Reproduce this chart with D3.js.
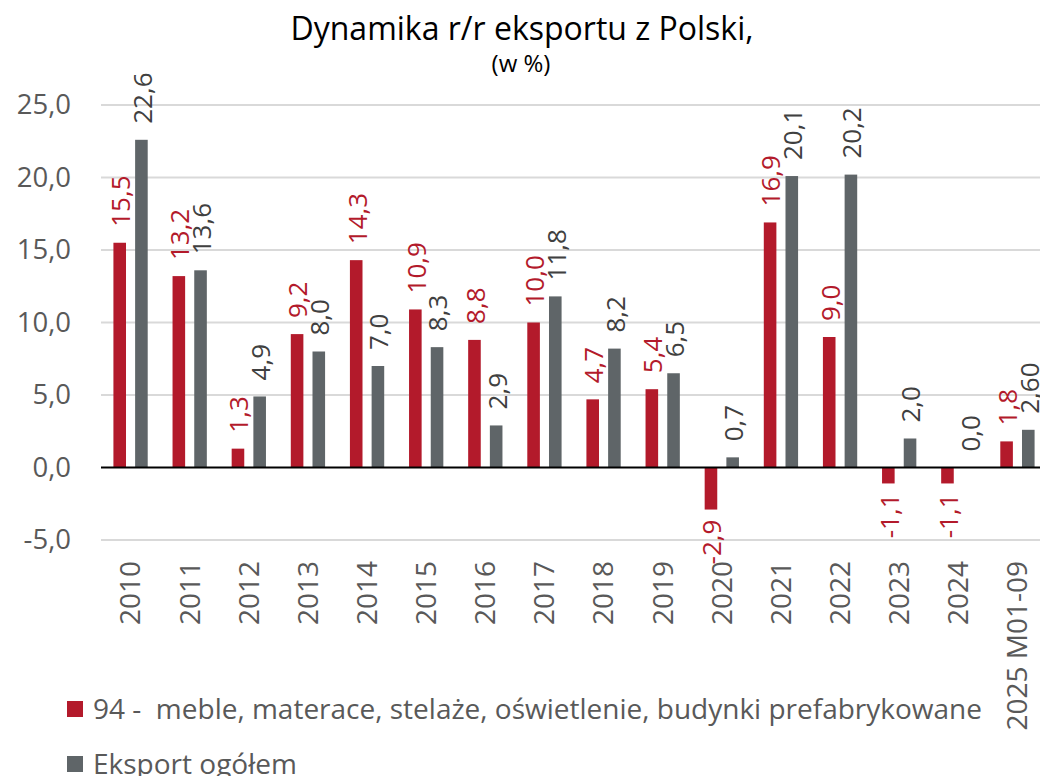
<!DOCTYPE html>
<html>
<head>
<meta charset="utf-8">
<script src="https://d3js.org/d3.v7.min.js"></script>
<style>
  body { margin: 0; background: #fff; }
  text { font-family: "Open Sans", "Noto Sans", sans-serif; }
</style>
</head>
<body>

<svg id="chart" width="1040" height="776"></svg>

<script>
// data
const years = ["2010", "2011", "2012", "2013", "2014", "2015", "2016", "2017",
               "2018", "2019", "2020", "2021", "2022", "2023", "2024", "2025 M01-09"];
const meble = [15.5, 13.2, 1.3, 9.2, 14.3, 10.9, 8.8, 10.0, 4.7, 5.4, -2.9, 16.9, 9.0, -1.1, -1.1, 1.8];
const eksport = [22.6, 13.6, 4.9, 8.0, 7.0, 8.3, 2.9, 11.8, 8.2, 6.5, 0.7, 20.1, 20.2, 2.0, 0.0, 2.6];
const eksportDecimals = [1, 1, 1, 1, 1, 1, 1, 1, 1, 1, 1, 1, 1, 1, 1, 2]; // last label shows "2,60"
const yTicks = [-5, 0, 5, 10, 15, 20, 25];
const seriesNames = ["94 -  meble, materace, stelaże, oświetlenie, budynki prefabrykowane", "Eksport ogółem"];
const seriesColors = ["#b31a2b", "#5f6568"];

const svg = d3.select("#chart");

const x0 = d3.scaleBand()
    .domain(years)
    .range([101, 1047])
    .paddingInner(0.42)
    .paddingOuter(0.21);

const x1 = d3.scaleBand()
    .domain([0, 1])
    .range([0, x0.bandwidth()])
    .paddingInner(0.42);

const y = d3.scaleLinear()
    .domain([-5, 25])
    .range([540, 105]);

const fmt = (v, d) => v.toFixed(d).replace(".", ",");

// title
svg.append("text")
    .attr("x", 522).attr("y", 40)
    .attr("text-anchor", "middle")
    .style("font-size", "32px").style("fill", "#000")
    .text("Dynamika r/r eksportu z Polski,");
svg.append("text")
    .attr("x", 521).attr("y", 72)
    .attr("text-anchor", "middle")
    .style("font-size", "24px").style("fill", "#000")
    .text("(w %)");

// gridlines
svg.append("g")
  .selectAll("line")
  .data(yTicks.filter(d => d !== 0))
  .join("line")
    .attr("x1", 101).attr("x2", 1047)
    .attr("y1", d => y(d)).attr("y2", d => y(d))
    .attr("stroke", "#d9d9d9").attr("stroke-width", 2);

// y axis labels
const yAxis = svg.append("g")
    .attr("transform", "translate(80,0)")
    .call(d3.axisLeft(y).tickValues(yTicks).tickSize(0).tickPadding(9).tickFormat(d => fmt(d, 1)));
yAxis.select(".domain").remove();
yAxis.selectAll("text")
    .style("font-size", "27.5px").style("fill", "#595959")
    .style("font-family", "'Open Sans', sans-serif");

// bars
const rows = years.map((yr, i) => ({ yr, vals: [meble[i], eksport[i]], dec: [1, eksportDecimals[i]] }));

const groups = svg.append("g")
  .selectAll("g")
  .data(rows)
  .join("g")
    .attr("transform", d => `translate(${x0(d.yr)},0)`);

groups.selectAll("rect")
  .data(d => d.vals.map((v, k) => ({ v, k })))
  .join("rect")
    .attr("x", d => x1(d.k))
    .attr("width", x1.bandwidth())
    .attr("y", d => y(Math.max(0, d.v)))
    .attr("height", d => Math.abs(y(d.v) - y(0)))
    .attr("fill", d => seriesColors[d.k]);

// zero line
svg.append("line")
    .attr("x1", 101).attr("x2", 1047)
    .attr("y1", y(0)).attr("y2", y(0))
    .attr("stroke", "#000").attr("stroke-width", 2);

// data labels (rotated)
groups.selectAll("text.lbl")
  .data(d => d.vals.map((v, k) => ({ v, k, dec: d.dec[k] })))
  .join("text")
    .attr("class", "lbl")
    .attr("transform", d => {
      const cx = x1(d.k) + x1.bandwidth() / 2;
      const yy = d.v >= 0 ? y(d.v) - 16 : y(d.v) + 10;
      return `translate(${cx},${yy}) rotate(-90)`;
    })
    .attr("dy", "0.4em")
    .attr("text-anchor", d => d.v >= 0 ? "start" : "end")
    .style("font-size", "26px")
    .style("fill", d => d.k === 0 ? seriesColors[0] : "#404040")
    .text(d => fmt(d.v, d.dec));

// x axis labels
svg.append("g")
  .selectAll("text")
  .data(years)
  .join("text")
    .attr("transform", d => `translate(${x0(d) + x0.bandwidth() / 2},561) rotate(-90)`)
    .attr("dy", "0.35em")
    .attr("text-anchor", "end")
    .style("font-size", "28px").style("fill", "#595959")
    .text(d => d);

// legend
const legend = svg.append("g")
  .selectAll("g")
  .data(seriesNames)
  .join("g")
    .attr("transform", (d, i) => `translate(67,${701 + i * 55})`);
legend.append("rect")
    .attr("width", 16).attr("height", 16)
    .attr("fill", (d, i) => seriesColors[i]);
legend.append("text")
    .attr("x", 26).attr("y", 8)
    .attr("dy", "0.35em")
    .style("white-space", "pre")
    .style("font-size", "28px").style("fill", "#595959")
    .text(d => d);
</script>

</body>
</html>
